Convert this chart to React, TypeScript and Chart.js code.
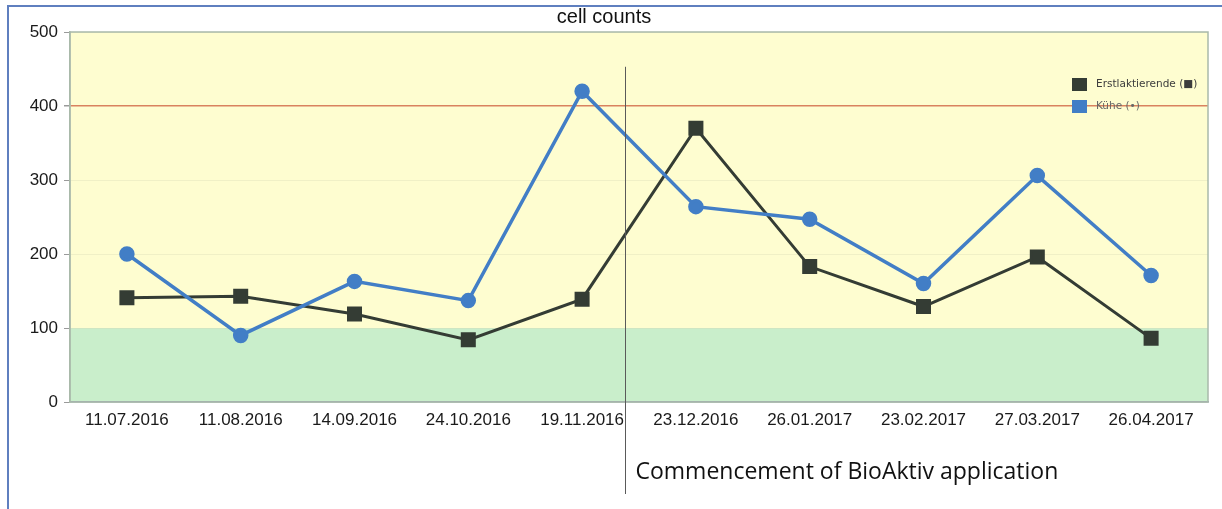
import React, { useEffect, useRef } from "react";
import { Chart, registerables } from "chart.js";

Chart.register(...registerables);

const categories = [
  "11.07.2016",
  "11.08.2016",
  "14.09.2016",
  "24.10.2016",
  "19.11.2016",
  "23.12.2016",
  "26.01.2017",
  "23.02.2017",
  "27.03.2017",
  "26.04.2017",
];
const erstlaktierende = [141, 143, 119, 84, 139, 370, 183, 129, 196, 86];
const kuehe = [200, 90, 163, 137, 420, 264, 247, 160, 306, 171];
const yTicks = [0, 100, 200, 300, 400, 500];
const greenLimit = 100;
const redLimit = 400;
const annotationIndex = 4.38;
const annotationTopValue = 453;
const annotationText = "Commencement of BioAktiv application";
const titleText = "cell counts";
const legendLabels = ["Erstlaktierende (■)", "Kühe (•)"];

const YELLOW = "#fefdd0";
const GREEN = "#c9eecb";
const BLUE = "#427ec6";
const DARK = "#343c34";

const bandsPlugin = {
  id: "bands",
  beforeDraw(chart: any) {
    const { ctx, chartArea } = chart;
    const y = chart.scales.y;
    const yTop = chartArea.top;
    const y100 = y.getPixelForValue(greenLimit);
    const y0 = y.getPixelForValue(0);
    ctx.save();
    ctx.fillStyle = YELLOW;
    ctx.fillRect(chartArea.left, yTop, chartArea.right - chartArea.left, y100 - yTop);
    ctx.fillStyle = GREEN;
    ctx.fillRect(chartArea.left, y100, chartArea.right - chartArea.left, y0 - y100);
    ctx.restore();
  },
  afterDraw(chart: any) {
    const { ctx, chartArea } = chart;
    const x = chart.scales.x;
    const y = chart.scales.y;
    ctx.save();
    // plot frame
    ctx.strokeStyle = "#a9b9ab";
    ctx.lineWidth = 1.5;
    ctx.strokeRect(chartArea.left, chartArea.top, chartArea.right - chartArea.left, chartArea.bottom - chartArea.top);
    // annotation line
    const ax = Math.round(x.getPixelForValue(annotationIndex)) + 0.5;
    ctx.strokeStyle = "#5a5a5a";
    ctx.lineWidth = 1;
    ctx.beginPath();
    ctx.moveTo(ax, y.getPixelForValue(annotationTopValue));
    ctx.lineTo(ax, chart.height - 15);
    ctx.stroke();
    ctx.fillStyle = "#111";
    ctx.font = "23px 'Open Sans', 'Noto Sans', sans-serif";
    ctx.textBaseline = "middle";
    ctx.textAlign = "left";
    ctx.fillText(annotationText, ax + 10, 472);
    // legend
    const colors = [DARK, BLUE];
    const lx = chartArea.right - 136;
    const tops = [78, 100];
    ctx.font = "10.5px 'DejaVu Sans', sans-serif";
    legendLabels.forEach((lab, i) => {
      ctx.fillStyle = colors[i];
      ctx.fillRect(lx, tops[i], 15, 13);
      ctx.fillStyle = i === 0 ? "#3c3c3c" : "#666";
      ctx.fillText(lab, lx + 24, tops[i] + 6.5);
    });
    ctx.restore();
  },
};

export default function App() {
  const ref = useRef<HTMLCanvasElement | null>(null);
  useEffect(() => {
    if (!ref.current) return;
    const chart = new Chart(ref.current, {
      type: "line",
      data: {
        labels: categories,
        datasets: [
          {
            label: "Erstlaktierende",
            data: erstlaktierende,
            borderColor: DARK,
            backgroundColor: DARK,
            borderWidth: 3,
            pointStyle: "rect",
            pointRadius: 8.5,
            pointHoverRadius: 8.5,
            tension: 0,
            order: 1,
          },
          {
            label: "Kühe",
            data: kuehe,
            borderColor: BLUE,
            backgroundColor: BLUE,
            borderWidth: 3.5,
            pointStyle: "circle",
            pointRadius: 6,
            pointHoverRadius: 6,
            tension: 0,
            order: 0,
          },
        ],
      },
      options: {
        animation: false,
        responsive: false,
        events: [],
        layout: { padding: { left: 0, right: 14, top: 0, bottom: 0 } },
        plugins: {
          legend: { display: false },
          tooltip: { enabled: false },
          title: {
            display: true,
            text: titleText,
            color: "#111",
            font: { family: "'Liberation Sans', Arial, sans-serif", size: 20, weight: "normal", lineHeight: 1.2 },
            padding: { top: 5, bottom: 3 },
          },
        },
        scales: {
          x: {
            offset: true,
            grid: { display: false, drawTicks: false },
            border: { display: true, color: "#9aa9b5", width: 1.5 },
            ticks: {
              color: "#1a1a1a",
              padding: 8,
              maxRotation: 0,
              autoSkip: false,
              font: { family: "'Liberation Sans', Arial, sans-serif", size: 17 },
            },
            afterFit(scale: any) {
              scale.height = 107;
            },
          },
          y: {
            min: 0,
            max: 500,
            afterBuildTicks(scale: any) {
              scale.ticks = yTicks.map((v) => ({ value: v }));
            },
            grid: {
              color: (c: any) =>
                c.tick && c.tick.value === redLimit ? "#d9825f" : "rgba(215,215,180,0.35)",
              lineWidth: (c: any) => (c.tick && c.tick.value === redLimit ? 1.5 : 1),
              tickColor: "#9a9a9a",
              tickLength: 6,
            },
            border: { display: true, color: "#a9b9ab", width: 1.5 },
            ticks: {
              color: "#1a1a1a",
              padding: 6,
              font: { family: "'Liberation Sans', Arial, sans-serif", size: 17 },
            },
            afterFit(scale: any) {
              scale.width = 70;
            },
          },
        },
      },
      plugins: [bandsPlugin],
    });
    return () => chart.destroy();
  }, []);

  return (
    <div style={{ position: "fixed", left: 0, top: 0, width: 1222, height: 509, background: "#fff" }}>
      <div
        style={{
          position: "absolute",
          left: 7,
          top: 5,
          width: 1215,
          height: 504,
          borderTop: "2px solid #5f7fbf",
          borderLeft: "2px solid #5f7fbf",
          boxSizing: "border-box",
        }}
      />
      <canvas ref={ref} width={1222} height={509} style={{ position: "absolute", left: 0, top: 0 }} />
    </div>
  );
}
